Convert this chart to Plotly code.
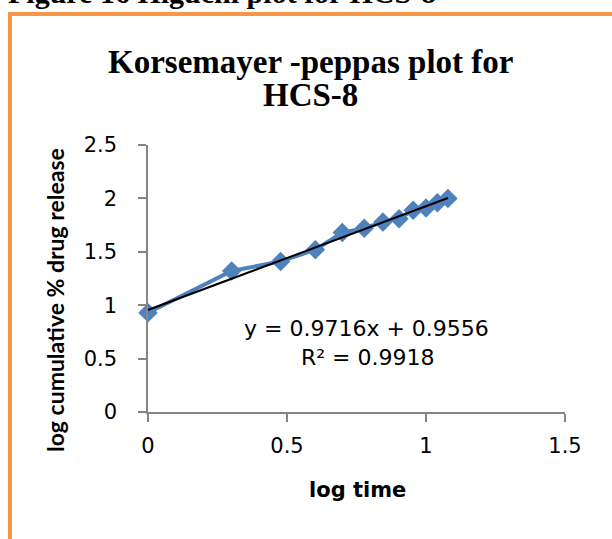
import plotly.graph_objects as go

log_time = [0.0, 0.301, 0.477, 0.602, 0.699, 0.778, 0.845, 0.903, 0.954, 1.0, 1.041, 1.079]
log_release = [0.93, 1.32, 1.41, 1.52, 1.68, 1.72, 1.78, 1.81, 1.89, 1.91, 1.96, 2.0]
slope = 0.9716
intercept = 0.9556
x_ticks = [0, 0.5, 1, 1.5]
y_ticks = [0, 0.5, 1, 1.5, 2, 2.5]

W, H = 612, 539
L, R, T, B = 148, 47, 145, 127
pw, ph = W - L - R, H - T - B

def px(xp):
    return (xp - L) / pw

def py(yp):
    return (H - B - yp) / ph

fig = go.Figure()
fig.add_trace(go.Scatter(
    x=log_time, y=log_release, mode="lines+markers",
    line=dict(color="#4F81BD", width=4),
    marker=dict(symbol="diamond", size=15, color="#4F81BD"),
    showlegend=False, cliponaxis=False))
tx = [log_time[0], log_time[-1]]
fig.add_trace(go.Scatter(
    x=tx, y=[slope * v + intercept for v in tx], mode="lines",
    line=dict(color="black", width=2), showlegend=False, cliponaxis=False))

axis_common = dict(showgrid=False, zeroline=False, showline=True,
                   linecolor="#868686", linewidth=1.5, ticks="outside",
                   tickcolor="#868686", ticklen=8, tickwidth=1.5,
                   tickfont=dict(family="DejaVu Sans", size=21, color="black"))
fig.update_xaxes(range=[0, 1.5], tickvals=x_ticks, ticktext=[str(v) for v in x_ticks],
                 ticklabelstandoff=6, **axis_common)
fig.update_yaxes(range=[0, 2.5], tickvals=y_ticks, ticktext=[str(v) for v in y_ticks],
                 ticklabelstandoff=17, **axis_common)

fig.update_layout(
    width=W, height=H, margin=dict(l=L, r=R, t=T, b=B),
    paper_bgcolor="white", plot_bgcolor="white",
)

# orange border
fig.add_shape(type="rect", xref="paper", yref="paper",
              x0=px(10), x1=px(640), y0=py(14), y1=py(580),
              line=dict(color="#F79646", width=4), layer="below")

anns = [
    dict(text="<b>Figure 16 Higuchi plot for HCS-8</b>", x=px(6), y=py(11), xanchor="left", yanchor="bottom",
         font=dict(family="Liberation Serif", size=30, color="black")),
    dict(text="<b>Korsemayer -peppas plot for</b>", x=px(310), y=py(62), xanchor="center", yanchor="middle",
         font=dict(family="Liberation Serif", size=33, color="black")),
    dict(text="<b>HCS-8</b>", x=px(310), y=py(95), xanchor="center", yanchor="middle",
         font=dict(family="Liberation Serif", size=33, color="black")),
    dict(text="<b>log time</b>", x=px(357), y=py(490), xanchor="center", yanchor="middle",
         font=dict(family="DejaVu Sans", size=21, color="black")),
    dict(text="<b>log cumulative % drug release</b>", x=px(55), y=py(300), xanchor="center", yanchor="middle",
         textangle=-90, font=dict(family="Lato", size=23, color="black")),
    dict(text="y = 0.9716x + 0.9556", x=px(366), y=py(328), xanchor="center", yanchor="middle",
         font=dict(family="DejaVu Sans", size=22, color="black")),
    dict(text="R² = 0.9918", x=px(368), y=py(357), xanchor="center", yanchor="middle",
         font=dict(family="DejaVu Sans", size=22, color="black")),
]
for a in anns:
    fig.add_annotation(xref="paper", yref="paper", showarrow=False, **a)

fig.write_html("out.html")
